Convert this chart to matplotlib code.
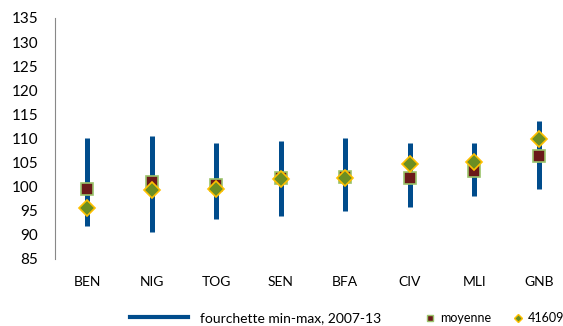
import matplotlib.pyplot as plt
from matplotlib.lines import Line2D

plt.rcParams['font.family'] = ['Lato', 'DejaVu Sans']

pays = ["BEN", "NIG", "TOG", "SEN", "BFA", "CIV", "MLI", "GNB"]
mini = [91.8, 90.7, 93.4, 93.9, 95.0, 95.7, 98.1, 99.6]
maxi = [110.2, 110.5, 109.1, 109.5, 110.2, 109.1, 109.1, 113.7]
moyenne = [99.5, 100.9, 100.4, 101.9, 102.1, 101.8, 103.3, 106.4]
val_41609 = [95.5, 99.3, 99.5, 101.7, 101.9, 104.8, 105.1, 110.0]

blue = "#004c8c"
fig = plt.figure(figsize=(5.63, 3.26), dpi=100)
ax = fig.add_axes([55 / 563, 67 / 326, 516 / 563, 241 / 326])

x = range(len(pays))
ax.vlines(x, mini, maxi, color=blue, linewidth=3.6)
ax.plot(x, moyenne, linestyle="none", marker="s", markersize=8,
        markerfacecolor="#6b1a1a", markeredgecolor="#9bc36b", markeredgewidth=1.2)
ax.plot(x, val_41609, linestyle="none", marker="D", markersize=8,
        markerfacecolor="#6b8e23", markeredgecolor="#ffc000", markeredgewidth=1.2)

ax.set_xlim(-0.5, len(pays) - 0.5)
ax.set_ylim(85, 135)
ax.set_yticks(range(85, 136, 5))
ax.set_xticks(list(x))
ax.set_xticklabels(pays)
for s in ["top", "right", "bottom"]:
    ax.spines[s].set_visible(False)
ax.spines["left"].set_color("#888888")
ax.tick_params(axis="y", length=0, labelsize=11, pad=12)
ax.tick_params(axis="x", length=0, labelsize=10, pad=12)

fs = 10
px = fs * 100 / 72
h1 = [Line2D([], [], color=blue, linewidth=3)]
fig.legend(h1, ["fourchette min-max, 2007-13"], loc="center left",
           bbox_to_anchor=(130 / 563, 8 / 326), frameon=False, fontsize=fs,
           borderpad=0, borderaxespad=0, handlelength=58 / px, handletextpad=12 / px)
h2 = [Line2D([], [], linestyle="none", marker="s", markersize=5,
             markerfacecolor="#6b1a1a", markeredgecolor="#9bc36b")]
fig.legend(h2, ["moyenne"], loc="center left",
           bbox_to_anchor=(425 / 563, 8 / 326), frameon=False, fontsize=fs - 1,
           borderpad=0, borderaxespad=0, handlelength=0.8, handletextpad=0.4)
h3 = [Line2D([], [], linestyle="none", marker="D", markersize=4,
             markerfacecolor="#6b8e23", markeredgecolor="#ffc000")]
fig.legend(h3, ["41609"], loc="center left",
           bbox_to_anchor=(513 / 563, 8 / 326), frameon=False, fontsize=fs - 1,
           borderpad=0, borderaxespad=0, handlelength=0.8, handletextpad=0.4)

fig.savefig("out.png", dpi=100)
